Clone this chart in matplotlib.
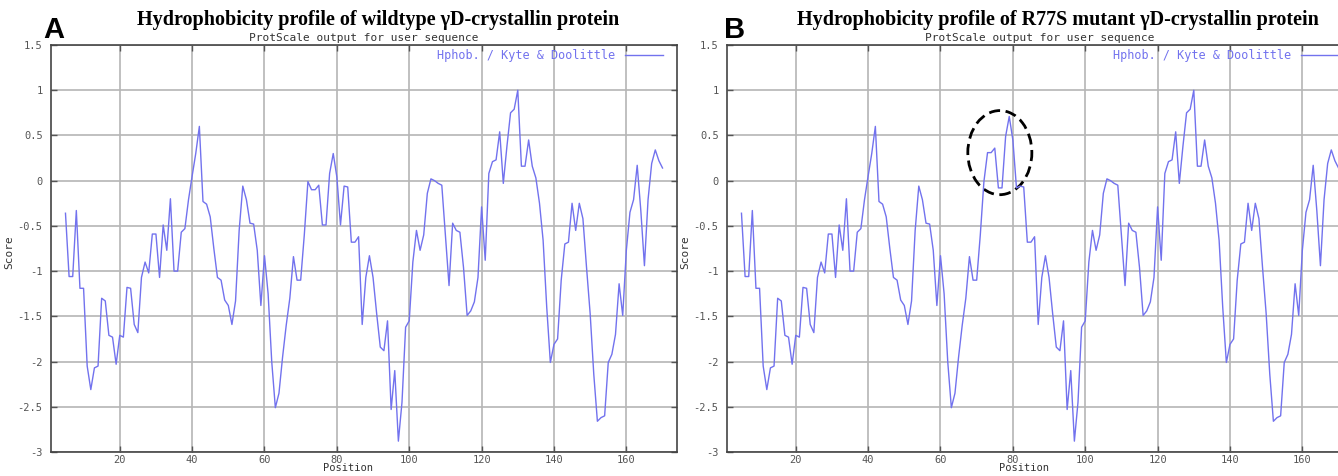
import matplotlib.pyplot as plt
from matplotlib.patches import Ellipse

# Kyte & Doolittle hydrophobicity (window 9), positions 5..170
positions = list(range(5, 171))

wildtype = [
    -0.36, -1.06, -1.06, -0.33, -1.19, -1.19, -2.05, -2.31, -2.07, -2.05,   # 5-14
    -1.30, -1.33, -1.71, -1.73, -2.03, -1.71, -1.73, -1.18, -1.19, -1.59,   # 15-24
    -1.68, -1.07, -0.90, -1.02, -0.59, -0.59, -1.07, -0.49, -0.77, -0.20,   # 25-34
    -1.00, -1.00, -0.57, -0.53, -0.21, 0.05, 0.30, 0.60, -0.23, -0.26,      # 35-44
    -0.40, -0.75, -1.07, -1.10, -1.32, -1.38, -1.59, -1.33, -0.55, -0.06,   # 45-54
    -0.21, -0.47, -0.48, -0.77, -1.38, -0.83, -1.25, -2.00, -2.51, -2.35,   # 55-64
    -1.95, -1.60, -1.30, -0.84, -1.10, -1.10, -0.60, -0.01, -0.10, -0.10,   # 65-74
    -0.05, -0.49, -0.49, 0.08, 0.30, 0.04, -0.49, -0.06, -0.07, -0.68,      # 75-84
    -0.68, -0.62, -1.59, -1.07, -0.83, -1.07, -1.47, -1.84, -1.88, -1.55,   # 85-94
    -2.53, -2.10, -2.88, -2.45, -1.62, -1.55, -0.90, -0.55, -0.77, -0.60,   # 95-104
    -0.14, 0.02, 0.00, -0.03, -0.05, -0.60, -1.16, -0.47, -0.55, -0.57,     # 105-114
    -0.96, -1.49, -1.44, -1.34, -1.07, -0.29, -0.88, 0.08, 0.21, 0.23,      # 115-124
    0.54, -0.03, 0.38, 0.75, 0.79, 1.00, 0.16, 0.16, 0.45, 0.16,            # 125-134
    0.03, -0.25, -0.66, -1.40, -2.01, -1.81, -1.75, -1.10, -0.70, -0.68,    # 135-144
    -0.25, -0.55, -0.25, -0.42, -0.96, -1.47, -2.14, -2.66, -2.62, -2.60,   # 145-154
    -2.01, -1.92, -1.70, -1.14, -1.49, -0.77, -0.35, -0.21, 0.17, -0.33,    # 155-164
    -0.94, -0.21, 0.19, 0.34, 0.22, 0.14,                                   # 165-170
]

# windows 73..81 contain position 77 -> changed in the R77S mutant
mut_start = 73
r77s_window = [0.31, 0.31, 0.36, -0.08, -0.08, 0.49, 0.71, 0.45, -0.08]
mutant = list(wildtype)
i0 = positions.index(mut_start)
mutant[i0:i0 + len(r77s_window)] = r77s_window

yticks = [1.5, 1, 0.5, 0, -0.5, -1, -1.5, -2, -2.5, -3]
ytick_labels = ['1.5', '1', '0.5', '0', '-0.5', '-1', '-1.5', '-2', '-2.5', '-3']
xticks = [20, 40, 60, 80, 100, 120, 140, 160]

line_col = '#7272ee'
mono = 'DejaVu Sans Mono'
W, H = 1338, 476

fig = plt.figure(figsize=(W / 100, H / 100), dpi=100, facecolor='white')


def px_axes(x0, x1, y0, y1):
    # pixel box -> figure fraction
    return fig.add_axes([x0 / W, 1 - y1 / H, (x1 - x0) / W, (y1 - y0) / H])


def style_panel(ax, values):
    ax.plot(positions, values, color=line_col, lw=1.0)
    ax.set_xlim(1, 174)
    ax.set_ylim(-3, 1.5)
    ax.set_xticks(xticks)
    ax.set_xticklabels([str(t) for t in xticks], family=mono, fontsize=7.5, color='#555555')
    ax.set_yticks(yticks)
    ax.set_yticklabels(ytick_labels, family=mono, fontsize=7.5, color='#555555')
    ax.tick_params(direction='in', top=True, right=True, length=4, width=1,
                   color='#555555', pad=6)
    ax.tick_params(axis='x', pad=2)
    ax.grid(True, color='#b5b5b5', lw=1.2)
    ax.set_axisbelow(True)
    for sp in ax.spines.values():
        sp.set_color('#444444')
        sp.set_linewidth(1.2)
    ax.text(0.475, -0.039, 'Position', transform=ax.transAxes, ha='center', va='center',
            family=mono, fontsize=7.5, color='#333333')
    ax.set_ylabel('Score', family=mono, fontsize=8, color='#333333')
    ax.yaxis.set_label_coords(-0.058, 0.49)
    # gnuplot-like key
    ax.text(0.901, 0.975, 'Hphob. / Kyte & Doolittle', transform=ax.transAxes,
            ha='right', va='center', family=mono, fontsize=8.5, color=line_col)
    ax.plot([0.917, 0.977], [0.975, 0.975], transform=ax.transAxes, color=line_col,
            lw=1.0, clip_on=False)


ax1 = px_axes(51, 677, 45, 452)
style_panel(ax1, wildtype)
ax2 = px_axes(727, 1353, 45, 452)
style_panel(ax2, mutant)

# circled mutation region in panel B
ax2.add_patch(Ellipse((76.4, 0.31), 17.7, 0.93, fill=False, ls=(0, (4, 2)),
                      lw=2, ec='black'))

# titles and panel letters
fig.text(378 / W, 1 - 20 / H, 'Hydrophobicity profile of wildtype γD-crystallin protein',
         ha='center', va='center', family='Liberation Serif', fontweight='bold', fontsize=14.5)
fig.text(1058 / W, 1 - 20 / H, 'Hydrophobicity profile of R77S mutant γD-crystallin protein',
         ha='center', va='center', family='Liberation Serif', fontweight='bold', fontsize=14.5)
for cx in (364, 1040):
    fig.text(cx / W, 1 - 38 / H, 'ProtScale output for user sequence', ha='center',
             va='center', family=mono, fontsize=8, color='#333333')
fig.text(54 / W, 1 - 30 / H, 'A', ha='center', va='center', family='Liberation Sans',
         fontweight='bold', fontsize=21)
fig.text(735 / W, 1 - 30 / H, 'B', ha='center', va='center', family='Liberation Sans',
         fontweight='bold', fontsize=21)

fig.savefig('out.png', dpi=100, facecolor='white')
